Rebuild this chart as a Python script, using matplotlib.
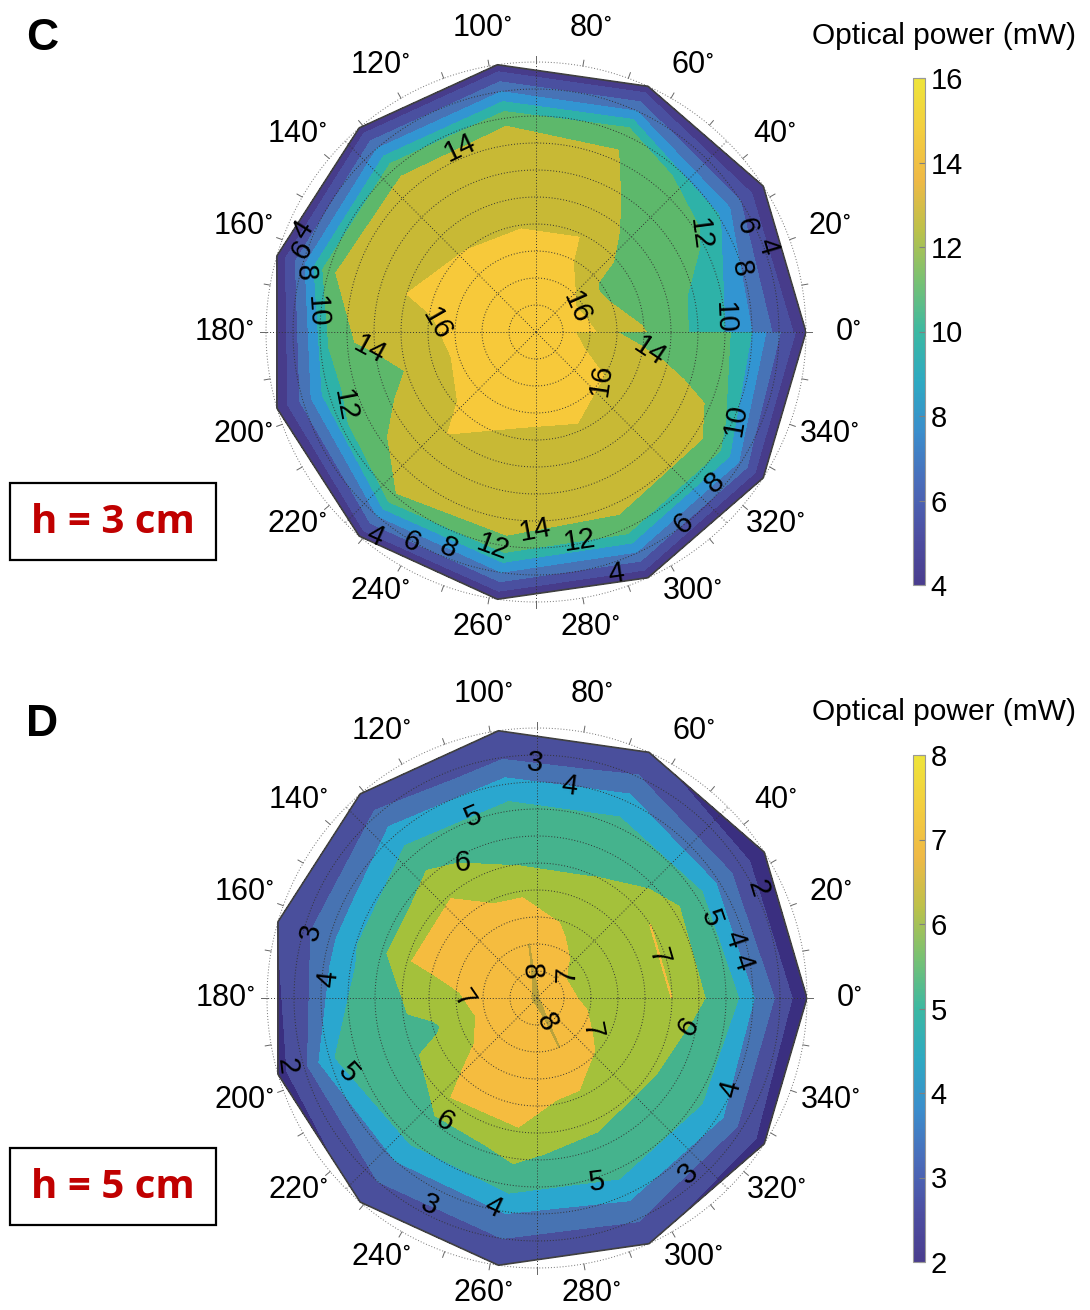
import numpy as np
import matplotlib
matplotlib.use("Agg")
import matplotlib.pyplot as plt
from matplotlib.colors import LinearSegmentedColormap, Normalize
from matplotlib.cm import ScalarMappable
from matplotlib.patches import Rectangle

plt.rcParams['font.family'] = ['Liberation Sans', 'DejaVu Sans']
plt.rcParams['mathtext.fontset'] = 'custom'
plt.rcParams['mathtext.rm'] = 'Liberation Sans'

# ---------------------------------------------------------------------------
# Data: optical power (mW) on a polar grid (rows = angle, cols = radius)
# ---------------------------------------------------------------------------
angles_deg = [0, 32.7, 65.5, 98.2, 130.9, 163.6, 196.4, 229.1, 261.8, 294.5, 327.3, 360]
radii = [0, 1, 2, 3, 4, 5, 6, 7, 8, 9, 10]

power_h3 = [
    [17.2, 16.7, 16.2, 15.3, 14.1, 12.9, 11.5, 10.0, 8.0, 5.3, 2.8],
    [17.2, 16.6, 15.8, 13.5, 13.2, 13.0, 12.7, 12.4, 10.2, 6.0, 2.0],
    [17.2, 16.9, 16.6, 16.3, 15.95, 14.9, 14.45, 14.1, 13.85, 7.95, 2.6],
    [17.2, 16.9, 16.6, 16.3, 15.95, 15.8, 15.65, 15.5, 13.35, 7.95, 2.6],
    [17.2, 16.9, 16.6, 16.3, 16.0, 15.7, 15.4, 15.1, 13.35, 7.95, 2.6],
    [17.2, 17.0, 16.75, 16.5, 16.25, 16.0, 15.9, 15.75, 13.35, 7.5, 2.3],
    [17.2, 16.85, 16.55, 16.3, 15.2, 14.05, 13.4, 12.8, 11.2, 6.5, 2.2],
    [17.2, 17.0, 16.75, 16.5, 16.25, 16.0, 15.5, 14.9, 13.9, 8.0, 2.6],
    [17.2, 16.85, 16.55, 16.2, 15.85, 15.6, 15.3, 15.0, 13.35, 7.95, 2.3],
    [17.2, 16.9, 16.6, 16.25, 15.9, 15.5, 15.05, 14.65, 13.1, 7.8, 2.3],
    [17.2, 16.8, 16.4, 16.0, 15.7, 15.4, 15.0, 14.65, 12.6, 7.6, 2.0],
    [17.2, 16.5, 15.4, 14.0, 13.5, 13.1, 12.8, 12.5, 9.95, 6.2, 2.6],
]

power_h5 = [
    [8.05, 7.2, 6.8, 6.8, 6.7, 7.01, 6.05, 5.83, 4.06, 2.72, 1.12],
    [8.05, 7.1, 6.75, 6.7, 6.7, 7.01, 6.2, 5.45, 3.8, 2.4, 1.3],
    [8.05, 7.75, 7.2, 6.8, 6.4, 5.97, 5.65, 5.35, 4.4, 3.07, 2.2],
    [8.05, 8.015, 8.01, 7.6, 6.8, 5.96, 5.6, 5.35, 4.35, 2.9, 2.1],
    [8.05, 7.85, 7.6, 7.4, 7.2, 6.97, 6.2, 5.4, 4.55, 3.17, 2.3],
    [8.05, 7.8, 7.55, 7.35, 7.15, 6.97, 5.75, 4.95, 3.7, 2.75, 2.05],
    [8.05, 7.75, 7.35, 6.4, 5.85, 5.6, 5.4, 5.2, 4.95, 2.69, 1.64],
    [8.05, 7.8, 7.6, 7.4, 7.2, 6.97, 5.7, 5.2, 4.0, 3.0, 2.15],
    [8.05, 7.85, 7.6, 7.4, 7.25, 6.95, 6.15, 5.4, 4.07, 3.0, 2.1],
    [8.05, 8.015, 8.01, 7.58, 6.82, 6.23, 5.71, 5.4, 4.3, 3.1, 2.1],
    [8.05, 7.65, 7.2, 6.75, 6.35, 6.05, 5.85, 5.25, 4.3, 2.7, 1.6],
    [8.05, 7.15, 6.85, 6.7, 6.55, 6.4, 6.05, 5.83, 4.06, 2.72, 1.12],
]

levels_h3 = [4, 6, 8, 10, 12, 14, 16]
levels_h5 = [2, 3, 4, 5, 6, 7, 8]
cbar_ticks_h3 = [4, 6, 8, 10, 12, 14, 16]
cbar_ticks_h5 = [2, 3, 4, 5, 6, 7, 8]

# contour label anchor points (angle deg, radius)
labels_h3 = [(112.4, 7.15), (30.6, 7.1), (27, 8.54), (20.4, 9.1), (17.3, 7.78),
             (4.4, 6.9), (27.9, 1.44), (344.2, 4.1), (324, 3.18), (336.2, 7.95),
             (319.9, 8.58), (307.5, 8.84), (288.4, 9.36), (281.8, 7.66),
             (269.7, 7.31), (258.5, 8.22), (248, 8.57), (239.2, 9.03), (231.8, 9.64),
             (200.9, 7.63), (184.6, 6.1), (179, 4.14), (174.8, 8.17), (165.8, 8.97),
             (160.6, 9.2), (156.4, 9.32)]
labels_h5 = [(90.5, 8.81), (81.2, 7.98), (109.3, 7.18), (120.4, 5.5), (163.6, 8.65),
             (174.9, 7.51), (184.9, 3.05), (195.5, 9.3), (202.3, 7.8), (233.2, 5.87),
             (242.7, 8.63), (257.7, 8.15), (287.8, 7.39), (310.9, 8.82), (335.1, 8.09),
             (349.7, 5.57), (18.9, 4.7), (24.6, 7.13), (16.6, 7.92), (10, 7.7),
             (26.3, 9.29), (109, 1.02), (40.6, 1.37), (287.7, 0.97), (324.7, 2.18)]

# band colours (below first level ... above last level)
colors_h3 = ['#473c8b', '#4a50a0', '#4773b6', '#3295d2', '#2eb2a8', '#5db86b', '#c8b935', '#f7c93a']
colors_h5 = ['#3a2f80', '#4a4f9c', '#4773b2', '#2aa7cf', '#45b38d', '#a4c13b', '#f5bc3f', '#b9a23c']
cbar_colors = ['#4a3d8e', '#4d4fa3', '#4a6cba', '#3b8dcc', '#2ea9c2', '#3cb8a2',
               '#78c173', '#bcc14a', '#efb946', '#f3ce3f', '#eee43a']
parula_muted = LinearSegmentedColormap.from_list('parula_muted', cbar_colors)

FIG_W, FIG_H = 1090, 1310
RMAX = 10


def fig_rect(x0, y0, w, h):
    """pixel box (top-left origin) -> figure fraction"""
    return [x0 / FIG_W, 1 - (y0 + h) / FIG_H, w / FIG_W, h / FIG_H]


def pol(theta_deg, r):
    t = np.deg2rad(theta_deg)
    return r * np.cos(t), r * np.sin(t)


def polar_panel(fig, cx, cy, rad, Z, levels, colors, label_pts):
    ax = fig.add_axes(fig_rect(cx - rad, cy - rad, 2 * rad, 2 * rad))
    ax.set_xlim(-RMAX, RMAX)
    ax.set_ylim(-RMAX, RMAX)
    ax.set_aspect('equal')
    ax.axis('off')

    T, R = np.meshgrid(angles_deg, radii, indexing='ij')
    X, Y = pol(T, R)
    Z = np.asarray(Z)
    bounds = [-1] + list(levels) + [100]
    ax.contourf(X, Y, Z, levels=bounds, colors=colors, zorder=1)
    lines = ax.contour(X, Y, Z, levels=levels, colors='k', linewidths=0)
    pts = [pol(a, r) for a, r in label_pts]
    ax.clabel(lines, levels, fmt='%d', manual=pts, inline=False, fontsize=21, colors='k')

    # outline of the measured area
    ox, oy = pol(np.asarray(angles_deg), RMAX)
    ax.plot(ox, oy, color='0.25', lw=1.2, zorder=3)

    # polar grid
    phi = np.linspace(0, 360, 721)
    dotted = dict(ls=(0, (1, 2)), color='0.2', lw=0.7, zorder=2)
    for r in range(1, RMAX + 1):
        gx, gy = pol(phi, r)
        ax.plot(gx, gy, clip_on=False, **(dotted if r < RMAX else dict(dotted, color='0.45')))
    for a in range(0, 360, 45):
        sx, sy = pol(np.array([a, a]), np.array([0, RMAX]))
        ax.plot(sx, sy, **dotted)
    for a in range(0, 360, 10):
        tx, ty = pol(np.array([a, a]), np.array([RMAX, RMAX * 1.022]))
        ax.plot(tx, ty, color='0.4', lw=0.7, clip_on=False)
    for a in range(0, 360, 20):
        t = np.deg2rad(a)
        ry = 11.43 if np.sin(t) > 0.01 else 11.09
        ax.text(11.55 * np.cos(t), ry * np.sin(t), r'$\mathregular{%d^{\circ}}$' % a,
                ha='center', va='center', fontsize=22, clip_on=False)
    return ax


def colorbar_panel(fig, y0, vmin, vmax, ticks, title_y):
    cax = fig.add_axes(fig_rect(913, y0, 12, 507))
    sm = ScalarMappable(norm=Normalize(vmin, vmax), cmap=parula_muted)
    cb = fig.colorbar(sm, cax=cax, ticks=ticks)
    cb.outline.set_edgecolor('0.6')
    cb.outline.set_linewidth(0.8)
    cax.tick_params(labelsize=21, direction='in', length=4, color='0.5', pad=4)
    cax.set_yticklabels([str(t) for t in ticks])
    fig.text(944 / FIG_W, 1 - title_y / FIG_H, 'Optical power (mW)',
             ha='center', va='center', fontsize=21.5)


fig = plt.figure(figsize=(FIG_W / 100, FIG_H / 100), dpi=100)

polar_panel(fig, 536, 332, 270, power_h3, levels_h3, colors_h3, labels_h3)
polar_panel(fig, 537, 998, 270, power_h5, levels_h5, colors_h5, labels_h5)

colorbar_panel(fig, 78, 4, 16, cbar_ticks_h3, 36)
colorbar_panel(fig, 755, 2, 8, cbar_ticks_h5, 712)

# panel letters
fig.text(42 / FIG_W, 1 - 38 / FIG_H, 'C', ha='center', va='center', fontsize=32, fontweight='bold')
fig.text(42 / FIG_W, 1 - 725 / FIG_H, 'D', ha='center', va='center', fontsize=32, fontweight='bold')

# height boxes
for top, txt in [(483, 'h = 3 cm'), (1148, 'h = 5 cm')]:
    fig.add_artist(Rectangle((10 / FIG_W, 1 - (top + 77) / FIG_H), 206 / FIG_W, 77 / FIG_H,
                             transform=fig.transFigure, fill=False, edgecolor='k', linewidth=1.6))
    fig.text(113 / FIG_W, 1 - (top + 39) / FIG_H, txt, ha='center', va='center',
             fontsize=29, fontweight='bold', color='#c00000', family=['Open Sans', 'DejaVu Sans'])

fig.savefig('out.png', dpi=100)
